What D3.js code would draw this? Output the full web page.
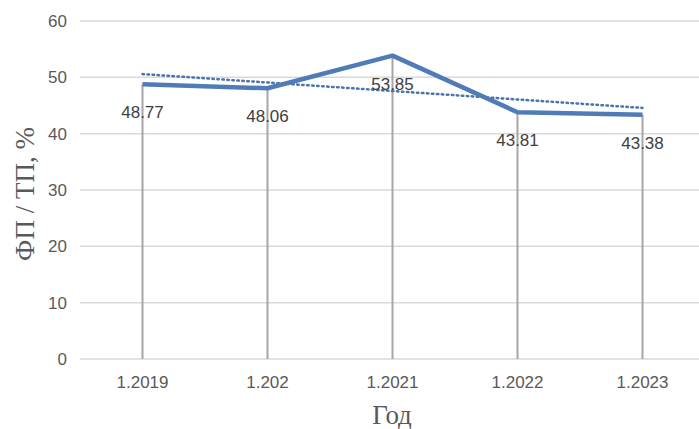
<html>
<head>
<meta charset="utf-8">
<script src="https://d3js.org/d3.v7.min.js"></script>
<style>
  body { margin: 0; background: #fff; }
</style>
</head>
<body>
<div id="chart"></div>
<script>
// data
var years = ["1.2019", "1.202", "1.2021", "1.2022", "1.2023"];
var values = [48.77, 48.06, 53.85, 43.81, 43.38];
var yTicks = [0, 10, 20, 30, 40, 50, 60];

var W = 699, H = 429;
var svg = d3.select("#chart").append("svg")
  .attr("width", W).attr("height", H);

// scales
var x = d3.scalePoint().domain(years).range([80, 705]).padding(0.5);
var y = d3.scaleLinear().domain([0, 60]).range([359, 21]);

// horizontal gridlines
svg.append("g").selectAll("line")
  .data(yTicks).enter().append("line")
  .attr("x1", 80).attr("x2", W)
  .attr("y1", function(d){ return y(d); })
  .attr("y2", function(d){ return y(d); })
  .attr("stroke", "#d9d9d9").attr("stroke-width", 1.5);

// y tick labels
svg.append("g").selectAll("text")
  .data(yTicks).enter().append("text")
  .attr("x", 67).attr("y", function(d){ return y(d); })
  .attr("dy", "0.35em")
  .attr("text-anchor", "end")
  .attr("font-family", "Liberation Sans, Arial, sans-serif")
  .attr("font-size", 17).attr("fill", "#595959")
  .text(function(d){ return d; });

// drop lines
svg.append("g").selectAll("line")
  .data(values).enter().append("line")
  .attr("x1", function(d, i){ return x(years[i]); })
  .attr("x2", function(d, i){ return x(years[i]); })
  .attr("y1", y(0))
  .attr("y2", function(d){ return y(d); })
  .attr("stroke", "#a6a6a6").attr("stroke-width", 2);

// x tick labels
svg.append("g").selectAll("text")
  .data(years).enter().append("text")
  .attr("x", function(d){ return x(d); }).attr("y", 388)
  .attr("text-anchor", "middle")
  .attr("font-family", "Liberation Sans, Arial, sans-serif")
  .attr("font-size", 17).attr("fill", "#595959")
  .text(function(d){ return d; });

// linear trendline (least squares over category index)
var n = values.length;
var mx = (n + 1) / 2, my = d3.mean(values);
var num = 0, den = 0;
values.forEach(function(v, i){ num += (i + 1 - mx) * (v - my); den += (i + 1 - mx) * (i + 1 - mx); });
var slope = num / den, icpt = my - slope * mx;
var trend = years.map(function(c, i){ return [c, icpt + slope * (i + 1)]; });

svg.append("path")
  .datum(trend)
  .attr("fill", "none")
  .attr("stroke", "#4a74ae")
  .attr("stroke-width", 2.5)
  .attr("stroke-dasharray", "1.5,3.5")
  .attr("stroke-linecap", "round")
  .attr("d", d3.line().x(function(d){ return x(d[0]); }).y(function(d){ return y(d[1]); }));

// main line
svg.append("path")
  .datum(values)
  .attr("fill", "none")
  .attr("stroke", "#4f7bb6")
  .attr("stroke-width", 4.5)
  .attr("stroke-linejoin", "round")
  .attr("d", d3.line().x(function(d, i){ return x(years[i]); }).y(function(d){ return y(d); }));

// data labels
svg.append("g").selectAll("text")
  .data(values).enter().append("text")
  .attr("x", function(d, i){ return x(years[i]); })
  .attr("y", function(d){ return y(d) + 34; })
  .attr("text-anchor", "middle")
  .attr("font-family", "Liberation Sans, Arial, sans-serif")
  .attr("font-size", 17).attr("fill", "#404040")
  .text(function(d){ return d.toFixed(2); });

// axis titles
svg.append("text")
  .attr("x", 392).attr("y", 424)
  .attr("text-anchor", "middle")
  .attr("font-family", "Liberation Serif, Times New Roman, serif")
  .attr("font-size", 27).attr("fill", "#595959")
  .text("Год");

svg.append("text")
  .attr("transform", "translate(34,194) rotate(-90)")
  .attr("text-anchor", "middle")
  .attr("font-family", "Liberation Serif, Times New Roman, serif")
  .attr("font-size", 27).attr("fill", "#595959")
  .text("ФП / ТП, %");
</script>
</body>
</html>
